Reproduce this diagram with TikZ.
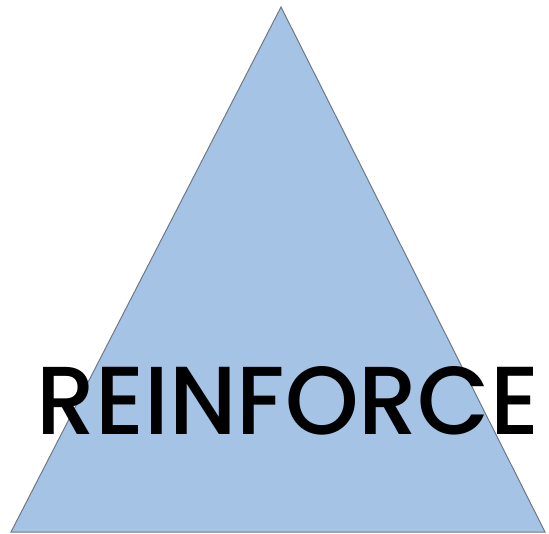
\documentclass[tikz,border=0pt]{standalone}
\usepackage{fontspec}
\setmainfont{Poppins}
\IfFontExistsTF{Poppins Medium}{\newfontfamily\titlefont{Poppins Medium}}{\newfontfamily\titlefont{Poppins}[FakeBold=0.9]}
\usepackage{graphicx}
\definecolor{trifill}{HTML}{A5C3E4}
\definecolor{tristroke}{HTML}{6F7885}
\begin{document}
\begin{tikzpicture}[x=1pt,y=-1pt]
\useasboundingbox (0,0) rectangle (549,534);
\coordinate (apex) at (281,7);
\coordinate (bl) at (11,532);
\coordinate (br) at (545,532);
\draw[fill=trifill,draw=tristroke,line width=1pt,line join=miter] (apex) -- (br) -- (bl) -- cycle;
\node[inner sep=0pt,anchor=base west] (title) at (36,435) {\resizebox{503pt}{68pt}{\fontsize{96}{96}\selectfont\titlefont REINFORCE}};
\end{tikzpicture}
\end{document}
